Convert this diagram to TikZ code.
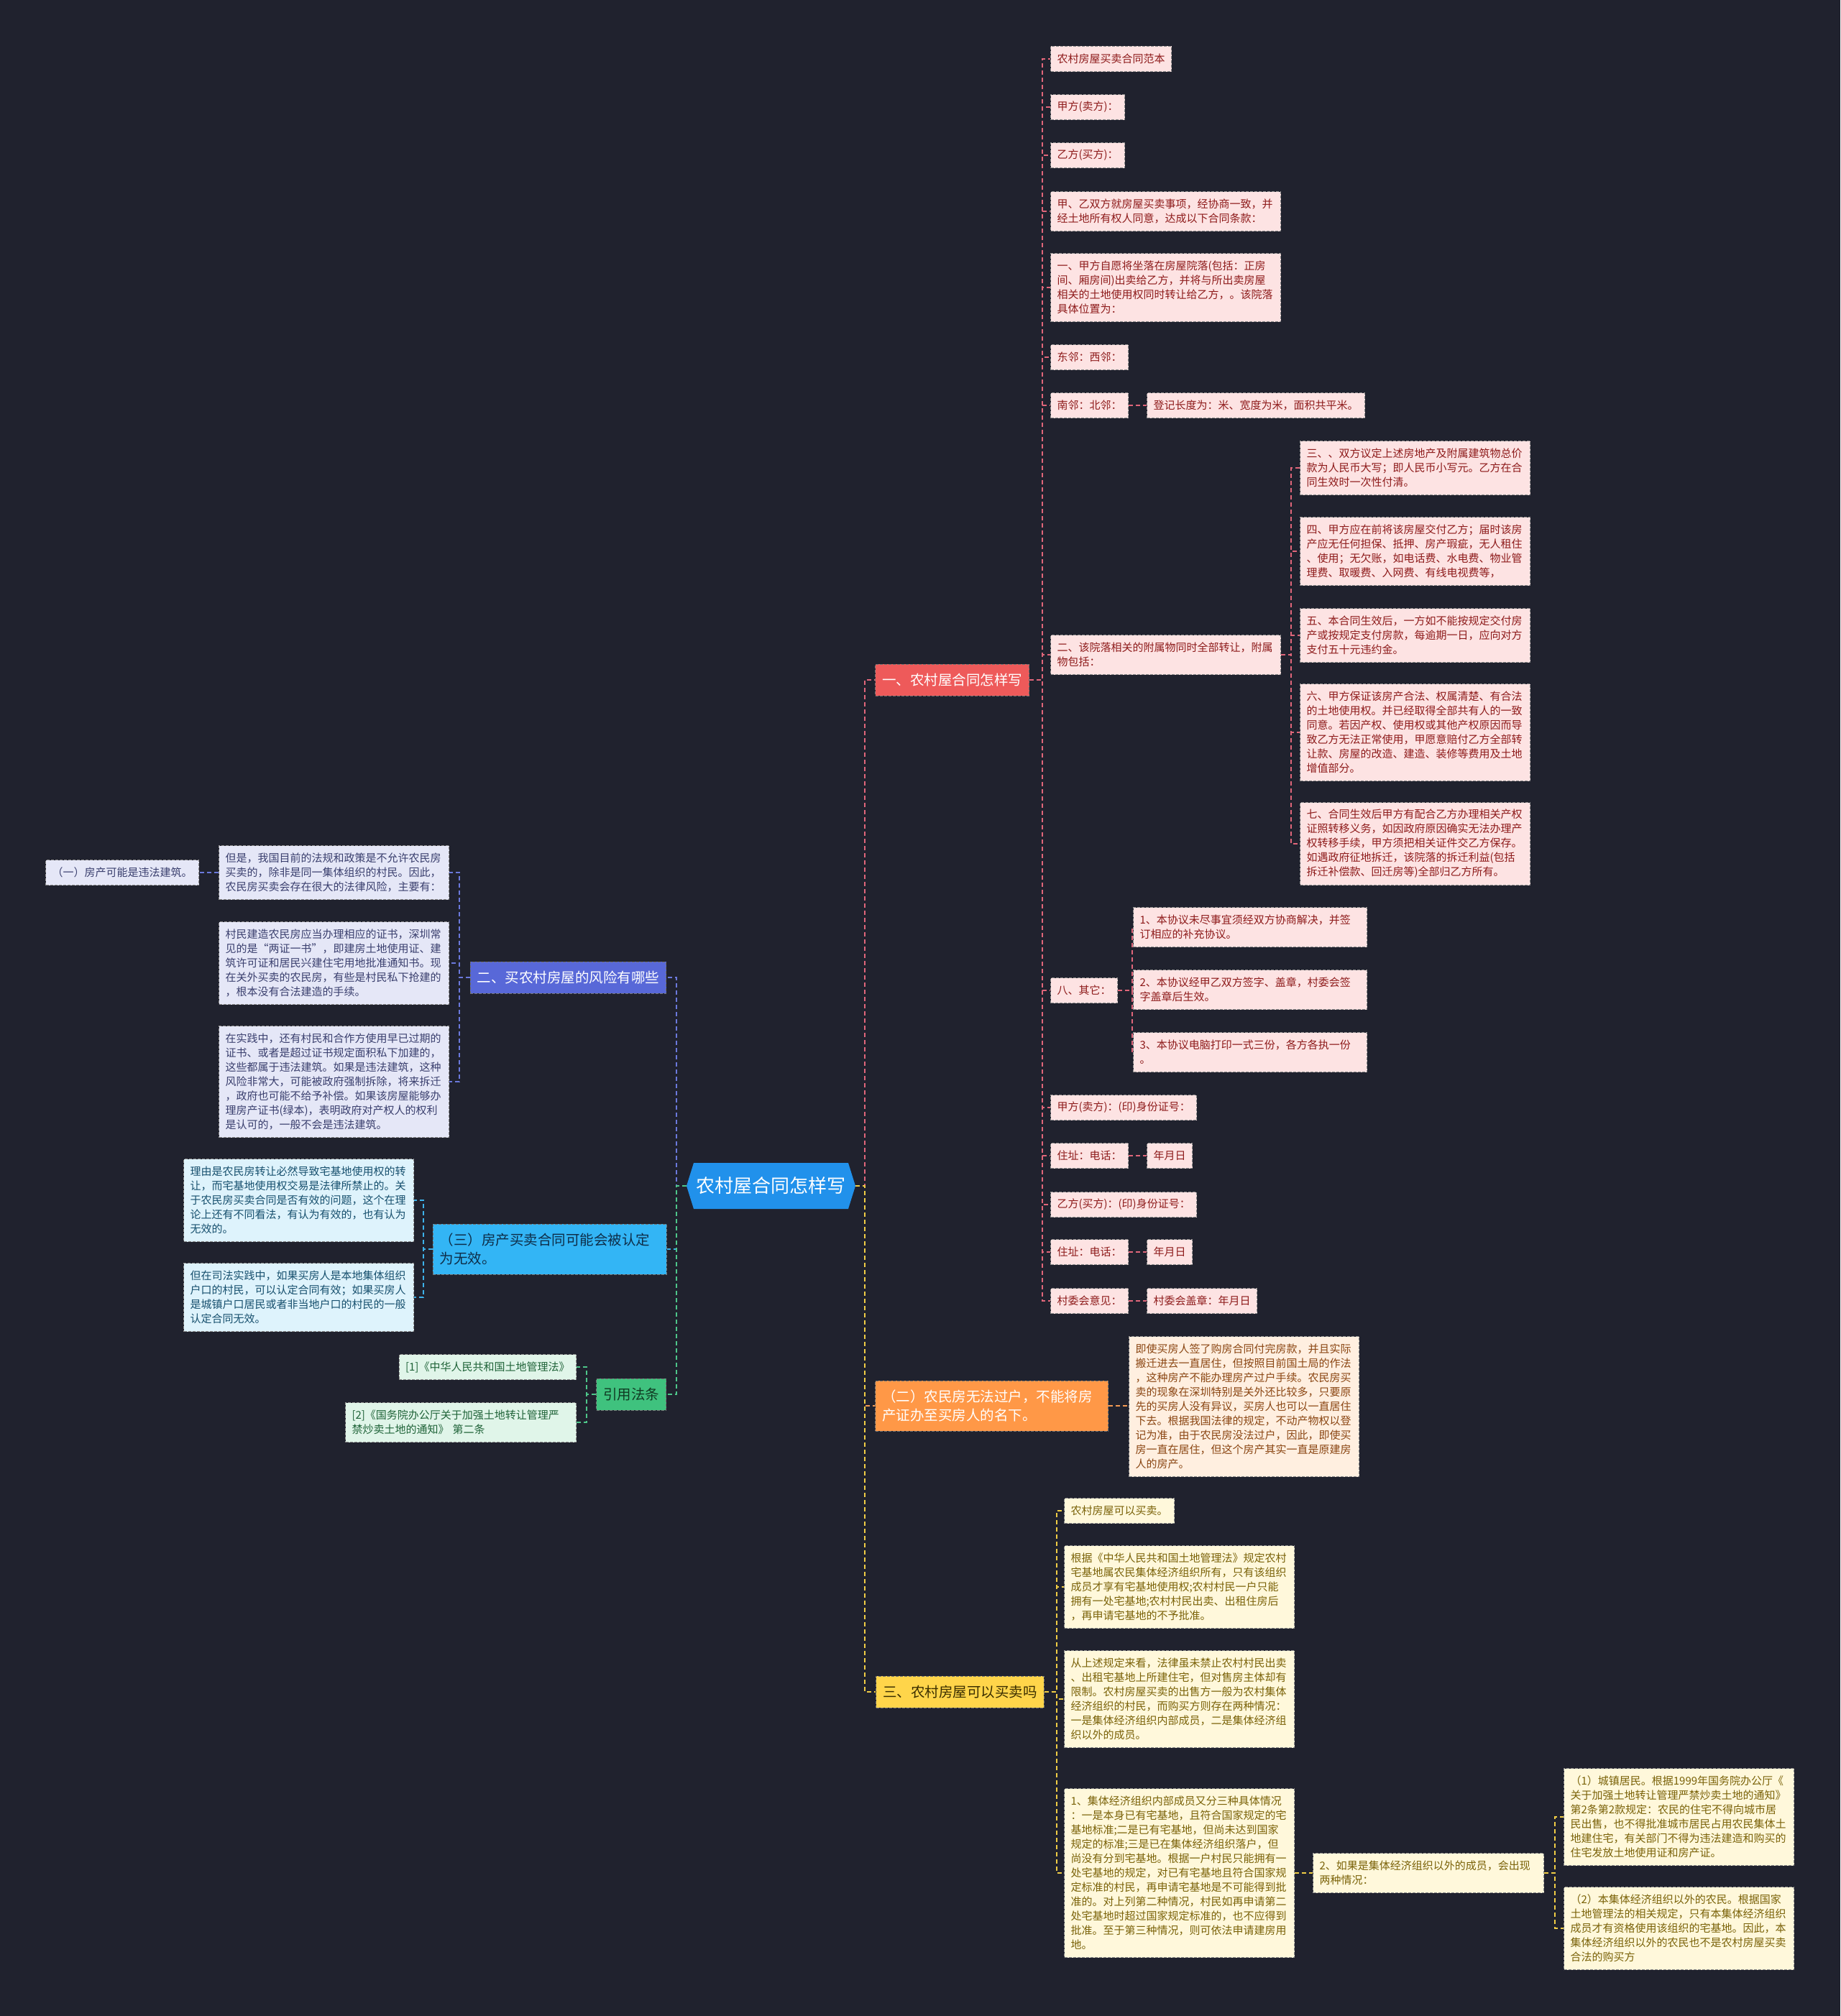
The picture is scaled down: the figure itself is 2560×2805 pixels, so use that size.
\documentclass[tikz,border=0pt]{standalone}
\usepackage{fontspec}
\newfontfamily\cjk{Noto Sans CJK SC}
\newcommand\lffont{\cjk\fontsize{15}{20}\selectfont}
\newcommand\brfont{\cjk\fontsize{19.5}{26}\selectfont}
\newcommand\ctfont{\cjk\fontsize{26}{32}\selectfont}
\definecolor{bg}{HTML}{20222E}
\definecolor{centerfill}{HTML}{2191EB}
\definecolor{redfill}{HTML}{EE5A5A}
\definecolor{redleaf}{HTML}{FDE3E3}
\definecolor{redtext}{HTML}{8E1B1B}
\definecolor{redline}{HTML}{E0667A}
\definecolor{orangefill}{HTML}{FF9847}
\definecolor{orangeleaf}{HTML}{FFEFE0}
\definecolor{orangetext}{HTML}{8A4512}
\definecolor{orangeline}{HTML}{F39A52}
\definecolor{yellowfill}{HTML}{FFD54A}
\definecolor{yellowleaf}{HTML}{FFF8DB}
\definecolor{yellowtext}{HTML}{7A6208}
\definecolor{yellowline}{HTML}{F0CD45}
\definecolor{yellowbtext}{HTML}{3A2E00}
\definecolor{purplefill}{HTML}{5868D8}
\definecolor{purpleleaf}{HTML}{E5E7F7}
\definecolor{purpletext}{HTML}{3A3F6E}
\definecolor{purpleline}{HTML}{6B79DC}
\definecolor{cyanfill}{HTML}{33B5F5}
\definecolor{cyanleaf}{HTML}{DEF3FC}
\definecolor{cyantext}{HTML}{17506E}
\definecolor{cyanline}{HTML}{3DB2EA}
\definecolor{cyanbtext}{HTML}{0E2D48}
\definecolor{greenfill}{HTML}{3FC27E}
\definecolor{greenleaf}{HTML}{E0F5E9}
\definecolor{greentext}{HTML}{1F6338}
\definecolor{greenline}{HTML}{4EC68A}
\definecolor{greenbtext}{HTML}{103A22}
\tikzset{
  box/.style={draw=black!45, dash pattern=on 4pt off 2pt, line width=1pt, align=left},
  leaf/.style={box, inner xsep=9pt, inner ysep=2pt, font=\lffont},
  nl/.style={minimum height={20*#1+15}},
  branch/.style={box, draw=black!55, inner xsep=9.5pt, inner ysep=2pt, font=\brfont},
  bl/.style={minimum height={26*#1+18}},
  rleaf/.style={leaf, fill=redleaf, text=redtext, anchor=west},
  oleaf/.style={leaf, fill=orangeleaf, text=orangetext, anchor=west},
  yleaf/.style={leaf, fill=yellowleaf, text=yellowtext, anchor=west},
  pleaf/.style={leaf, fill=purpleleaf, text=purpletext, anchor=east},
  cleaf/.style={leaf, fill=cyanleaf, text=cyantext, anchor=east},
  gleaf/.style={leaf, fill=greenleaf, text=greentext, anchor=east},
  con/.style={line width=2pt, dash pattern=on 6pt off 4pt},
  maincon/.style={line width=2.5pt, dash pattern=on 6pt off 4pt},
}
\begin{document}
\begin{tikzpicture}[x=1pt,y=-1pt]
\useasboundingbox (0,0) rectangle (2560,2805);
\fill[bg] (0,0) rectangle (2560,2805);

% centre
\fill[centerfill] (955,1650) -- (965,1618) -- (1180,1618) -- (1190,1650) -- (1180,1682) -- (965,1682) -- cycle;
\node[font=\ctfont, text=white, minimum width=235, minimum height=64, inner sep=0pt] (c) at (1072.5,1650) {农村屋合同怎样写};

% branches
\node[branch, bl=1, fill=redfill, text=white, anchor=west] (b1) at (1217,946) {一、农村屋合同怎样写};
\node[branch, bl=2, fill=orangefill, text=white, anchor=west, text width=305pt] (o1) at (1217,1956) {（二）农民房无法过户，不能将房\\产证办至买房人的名下。};
\node[branch, bl=1, fill=yellowfill, text=yellowbtext, anchor=west] (y1) at (1218,2354) {三、农村房屋可以买卖吗};
\node[branch, bl=1, fill=purplefill, text=white, anchor=east] (p1) at (927,1360) {二、买农村房屋的风险有哪些};
\node[branch, bl=2, fill=cyanfill, text=cyanbtext, anchor=east, text width=306pt] (c1) at (927.5,1738) {（三）房产买卖合同可能会被认定\\为无效。};
\node[branch, bl=1, fill=greenfill, text=greenbtext, anchor=east] (g1) at (927,1940) {引用法条};

% red leaves
\node[rleaf, nl=1] (r1) at (1461,82) {农村房屋买卖合同范本};
\node[rleaf, nl=1] (r2) at (1461,149) {甲方(卖方)：};
\node[rleaf, nl=1] (r3) at (1461,216) {乙方(买方)：};
\node[rleaf, nl=2, text width=302pt] (r4) at (1461,294) {甲、乙双方就房屋买卖事项，经协商一致，并\\经土地所有权人同意，达成以下合同条款：};
\node[rleaf, nl=4, text width=302pt] (r5) at (1461,400) {一、甲方自愿将坐落在房屋院落(包括：正房\\间、厢房间)出卖给乙方，并将与所出卖房屋\\相关的土地使用权同时转让给乙方，。该院落\\具体位置为：};
\node[rleaf, nl=1] (r6) at (1461,497) {东邻：西邻：};
\node[rleaf, nl=1] (r7) at (1461,564) {南邻：北邻：};
\node[rleaf, nl=1] (r7b) at (1595,564) {登记长度为：米、宽度为米，面积共平米。};
\node[rleaf, nl=2, text width=302pt] (r8) at (1461,911) {二、该院落相关的附属物同时全部转让，附属\\物包括：};
\node[rleaf, nl=3, text width=302pt] (s1) at (1808,651) {三、、双方议定上述房地产及附属建筑物总价\\款为人民币大写；即人民币小写元。乙方在合\\同生效时一次性付清。};
\node[rleaf, nl=4, text width=302pt] (s2) at (1808,767) {四、甲方应在前将该房屋交付乙方；届时该房\\产应无任何担保、抵押、房产瑕疵，无人租住\\、使用；无欠账，如电话费、水电费、物业管\\理费、取暖费、入网费、有线电视费等，};
\node[rleaf, nl=3, text width=302pt] (s3) at (1808,884) {五、本合同生效后，一方如不能按规定交付房\\产或按规定支付房款，每逾期一日，应向对方\\支付五十元违约金。};
\node[rleaf, nl=6, text width=302pt] (s4) at (1808,1019) {六、甲方保证该房产合法、权属清楚、有合法\\的土地使用权。并已经取得全部共有人的一致\\同意。若因产权、使用权或其他产权原因而导\\致乙方无法正常使用，甲愿意赔付乙方全部转\\让款、房屋的改造、建造、装修等费用及土地\\增值部分。};
\node[rleaf, nl=5, text width=302pt] (s5) at (1808,1174) {七、合同生效后甲方有配合乙方办理相关产权\\证照转移义务，如因政府原因确实无法办理产\\权转移手续，甲方须把相关证件交乙方保存。\\如遇政府征地拆迁，该院落的拆迁利益(包括\\拆迁补偿款、回迁房等)全部归乙方所有。};
\node[rleaf, nl=1] (r9) at (1461,1378) {八、其它：};
\node[rleaf, nl=2, text width=307pt] (q1) at (1576,1290) {1、本协议未尽事宜须经双方协商解决，并签\\订相应的补充协议。};
\node[rleaf, nl=2, text width=307pt] (q2) at (1576,1377) {2、本协议经甲乙双方签字、盖章，村委会签\\字盖章后生效。};
\node[rleaf, nl=2, text width=307pt] (q3) at (1576,1464) {3、本协议电脑打印一式三份，各方各执一份\\。};
\node[rleaf, nl=1] (r10) at (1461,1541) {甲方(卖方)：(印)身份证号：};
\node[rleaf, nl=1] (r11) at (1461,1608) {住址：电话：};
\node[rleaf, nl=1] (r11b) at (1595,1608) {年月日};
\node[rleaf, nl=1] (r12) at (1461,1676) {乙方(买方)：(印)身份证号：};
\node[rleaf, nl=1] (r13) at (1461,1742) {住址：电话：};
\node[rleaf, nl=1] (r13b) at (1595,1742) {年月日};
\node[rleaf, nl=1] (r14) at (1461,1810) {村委会意见：};
\node[rleaf, nl=1] (r14b) at (1595,1810) {村委会盖章：年月日};

% orange leaf
\node[oleaf, nl=9, text width=302pt] (o2) at (1570,1957) {即使买房人签了购房合同付完房款，并且实际\\搬迁进去一直居住，但按照目前国土局的作法\\，这种房产不能办理房产过户手续。农民房买\\卖的现象在深圳特别是关外还比较多，只要原\\先的买房人没有异议，买房人也可以一直居住\\下去。根据我国法律的规定，不动产物权以登\\记为准，由于农民房没法过户，因此，即使买\\房一直在居住，但这个房产其实一直是原建房\\人的房产。};

% yellow leaves
\node[yleaf, nl=1] (y2) at (1480,2102) {农村房屋可以买卖。};
\node[yleaf, nl=5, text width=302pt] (y3) at (1480,2208) {根据《中华人民共和国土地管理法》规定农村\\宅基地属农民集体经济组织所有，只有该组织\\成员才享有宅基地使用权;农村村民一户只能\\拥有一处宅基地;农村村民出卖、出租住房后\\，再申请宅基地的不予批准。};
\node[yleaf, nl=6, text width=302pt] (y4) at (1480,2364) {从上述规定来看，法律虽未禁止农村村民出卖\\、出租宅基地上所建住宅，但对售房主体却有\\限制。农村房屋买卖的出售方一般为农村集体\\经济组织的村民，而购买方则存在两种情况：\\一是集体经济组织内部成员，二是集体经济组\\织以外的成员。};
\node[yleaf, nl=11, text width=302pt] (y5) at (1480,2606) {1、集体经济组织内部成员又分三种具体情况\\：一是本身已有宅基地，且符合国家规定的宅\\基地标准;二是已有宅基地，但尚未达到国家\\规定的标准;三是已在集体经济组织落户，但\\尚没有分到宅基地。根据一户村民只能拥有一\\处宅基地的规定，对已有宅基地且符合国家规\\定标准的村民，再申请宅基地是不可能得到批\\准的。对上列第二种情况，村民如再申请第二\\处宅基地时超过国家规定标准的，也不应得到\\批准。至于第三种情况，则可依法申请建房用\\地。};
\node[yleaf, nl=2, text width=303pt] (y6) at (1826,2606) {2、如果是集体经济组织以外的成员，会出现\\两种情况：};
\node[yleaf, nl=6, text width=302pt] (y7) at (2175,2528) {（1）城镇居民。根据1999年国务院办公厅《\\关于加强土地转让管理严禁炒卖土地的通知》\\第2条第2款规定：农民的住宅不得向城市居\\民出售，也不得批准城市居民占用农民集体土\\地建住宅，有关部门不得为违法建造和购买的\\住宅发放土地使用证和房产证。};
\node[yleaf, nl=5, text width=302pt] (y8) at (2175,2683) {（2）本集体经济组织以外的农民。根据国家\\土地管理法的相关规定，只有本集体经济组织\\成员才有资格使用该组织的宅基地。因此，本\\集体经济组织以外的农民也不是农村房屋买卖\\合法的购买方};

% purple leaves
\node[pleaf, nl=3, text width=302pt] (p2) at (625,1214) {但是，我国目前的法规和政策是不允许农民房\\买卖的，除非是同一集体组织的村民。因此，\\农民房买卖会存在很大的法律风险，主要有：};
\node[pleaf, nl=1] (p5) at (277,1214) {（一）房产可能是违法建筑。};
\node[pleaf, nl=5, text width=302pt] (p3) at (625,1340) {村民建造农民房应当办理相应的证书，深圳常\\见的是“两证一书”，即建房土地使用证、建\\筑许可证和居民兴建住宅用地批准通知书。现\\在关外买卖的农民房，有些是村民私下抢建的\\，根本没有合法建造的手续。};
\node[pleaf, nl=7, text width=302pt] (p4) at (625,1505) {在实践中，还有村民和合作方使用早已过期的\\证书、或者是超过证书规定面积私下加建的，\\这些都属于违法建筑。如果是违法建筑，这种\\风险非常大，可能被政府强制拆除，将来拆迁\\，政府也可能不给予补偿。如果该房屋能够办\\理房产证书(绿本)，表明政府对产权人的权利\\是认可的，一般不会是违法建筑。};

% cyan leaves
\node[cleaf, nl=5, text width=302pt] (c2) at (576,1670) {理由是农民房转让必然导致宅基地使用权的转\\让，而宅基地使用权交易是法律所禁止的。关\\于农民房买卖合同是否有效的问题，这个在理\\论上还有不同看法，有认为有效的，也有认为\\无效的。};
\node[cleaf, nl=4, text width=302pt] (c3) at (576,1805) {但在司法实践中，如果买房人是本地集体组织\\户口的村民，可以认定合同有效；如果买房人\\是城镇户口居民或者非当地户口的村民的一般\\认定合同无效。};

% green leaves
\node[gleaf, nl=1] (g2) at (802,1902) {[1]《中华人民共和国土地管理法》};
\node[gleaf, nl=2, text width=303pt] (g3) at (802,1979) {[2]《国务院办公厅关于加强土地转让管理严\\禁炒卖土地的通知》 第二条};

% connectors from centre
\draw[maincon, draw=redline] (c.east) -- ++(13,0) |- (b1.west);
\draw[maincon, draw=orangeline] (c.east) -- ++(13,0) |- (o1.west);
\draw[maincon, draw=yellowline] (c.east) -- ++(13,0) |- (y1.west);
\draw[maincon, draw=purpleline] (c.west) -- ++(-14,0) |- (p1.east);
\draw[maincon, draw=cyanline] (c.west) -- ++(-14,0) |- (c1.east);
\draw[maincon, draw=greenline] (c.west) -- ++(-14,0) |- (g1.east);

% red connectors
\foreach \n in {r1,r2,r3,r4,r5,r6,r7,r8,r9,r10,r11,r12,r13,r14}
  \draw[con, draw=redline] (b1.east) -- ++(18,0) |- (\n.west);
\foreach \n in {s1,s2,s3,s4,s5}
  \draw[con, draw=redline] (r8.east) -- ++(14,0) |- (\n.west);
\foreach \n in {q1,q2,q3}
  \draw[con, draw=redline] (r9.east) -- ++(20,0) |- (\n.west);
\draw[con, draw=redline] (r7.east) -- (r7b.west);
\draw[con, draw=redline] (r11.east) -- (r11b.west);
\draw[con, draw=redline] (r13.east) -- (r13b.west);
\draw[con, draw=redline] (r14.east) -- (r14b.west);

% orange
\draw[con, draw=orangeline] (o1.east) -- (o1.east -| o2.west);

% yellow
\foreach \n in {y2,y3,y4,y5}
  \draw[con, draw=yellowline] (y1.east) -- ++(17,0) |- (\n.west);
\draw[con, draw=yellowline] (y5.east) -- (y6.west);
\foreach \n in {y7,y8}
  \draw[con, draw=yellowline] (y6.east) -- ++(15,0) |- (\n.west);

% purple
\foreach \n in {p2,p3,p4}
  \draw[con, draw=purpleline] (p1.west) -- ++(-15,0) |- (\n.east);
\draw[con, draw=purpleline] (p2.west) -- (p5.east);

% cyan
\foreach \n in {c2,c3}
  \draw[con, draw=cyanline] (c1.west) -- ++(-13,0) |- (\n.east);

% green
\foreach \n in {g2,g3}
  \draw[con, draw=greenline] (g1.west) -- ++(-13,0) |- (\n.east);
\end{tikzpicture}
\end{document}
